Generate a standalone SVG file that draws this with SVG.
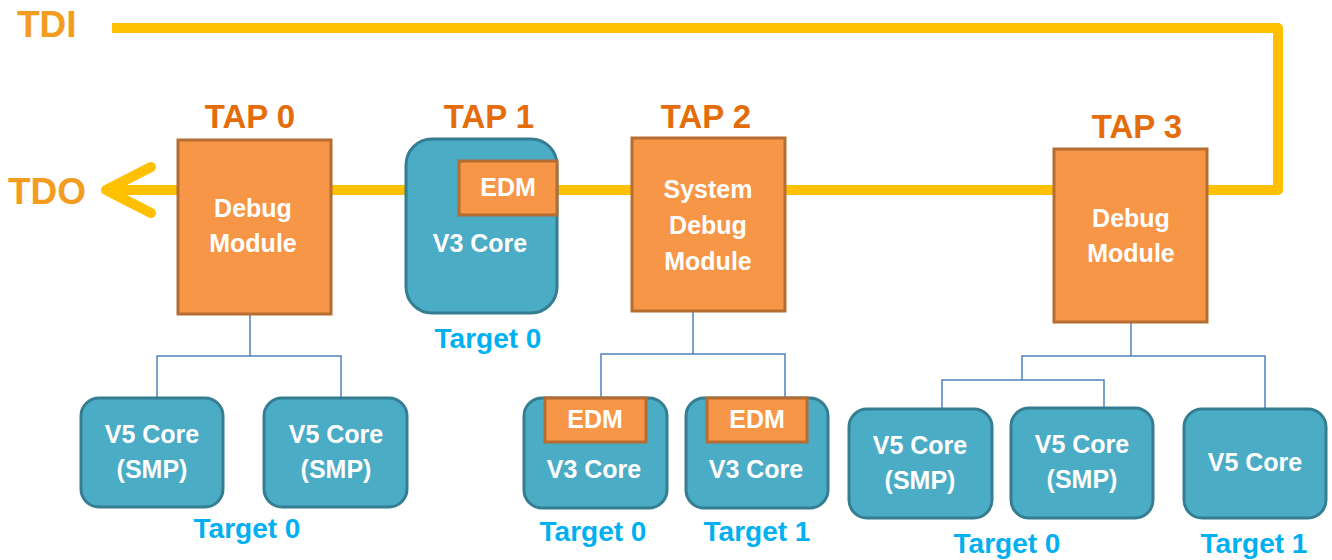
<svg xmlns="http://www.w3.org/2000/svg" width="1332" height="560" viewBox="0 0 1332 560">
<style>
text{font-family:"Liberation Sans",Arial,sans-serif;font-weight:bold;text-anchor:middle}
.sig{fill:#F39C1F;font-size:37px;text-anchor:start}
.tap{fill:#E46C0A;font-size:33px}
.w{fill:#FFFFFF;font-size:25px}
.tgt{fill:#00B0F0;font-size:28px}
.mod{fill:#F79646;stroke:#B66D31;stroke-width:3}
.core{fill:#4BACC6;stroke:#357D91;stroke-width:3}
.bus{fill:none;stroke:#FFC000;stroke-width:10}
.link{fill:none;stroke:#4F81BD;stroke-width:1.5}
</style>
<rect width="1332" height="560" fill="#FFFFFF"/>
<g id="connectors">
<polyline class="bus" points="112,28 1278,28 1278,190 106,190" stroke-linejoin="round"/>
<polyline class="bus" points="151,167 106,190 151,213" stroke-linecap="round" stroke-linejoin="round"/>
<polyline class="link" points="250,315 250,356"/>
<polyline class="link" points="157,397 157,356 341,356 341,397"/>
<polyline class="link" points="693,312 693,354"/>
<polyline class="link" points="601,397 601,354 785,354 785,397"/>
<polyline class="link" points="1131,323 1131,356"/>
<polyline class="link" points="1022,380 1022,356 1265,356 1265,408"/>
<polyline class="link" points="942,408 942,380 1104,380 1104,408"/>
</g>
<g id="labels">
<text class="sig" x="17" y="37">TDI</text>
<text class="sig" x="8" y="204">TDO</text>
</g>
<g id="tap0">
<text class="tap" x="250" y="128">TAP 0</text>
<rect class="mod" x="178" y="140" width="153" height="174"/>
<text class="w" x="253" y="217">Debug</text>
<text class="w" x="253" y="252">Module</text>
</g>
<g id="tap1">
<text class="tap" x="489" y="128">TAP 1</text>
<rect class="core" x="406" y="139" width="151" height="174" rx="26"/>
<rect class="mod" x="459" y="161" width="98" height="54"/>
<text class="w" x="508" y="196">EDM</text>
<text class="w" x="480" y="252">V3 Core</text>
<text class="tgt" x="488" y="348">Target 0</text>
</g>
<g id="tap2">
<text class="tap" x="706" y="128">TAP 2</text>
<rect class="mod" x="632" y="138" width="153" height="173"/>
<text class="w" x="708" y="198">System</text>
<text class="w" x="708" y="234">Debug</text>
<text class="w" x="708" y="270">Module</text>
</g>
<g id="tap3">
<text class="tap" x="1137" y="138">TAP 3</text>
<rect class="mod" x="1054" y="149" width="153" height="173"/>
<text class="w" x="1131" y="227">Debug</text>
<text class="w" x="1131" y="262">Module</text>
</g>
<g id="tap0-core0">
<rect class="core" x="81" y="398" width="142" height="109" rx="18"/>
<text class="w" x="152" y="443">V5 Core</text>
<text class="w" x="152" y="478">(SMP)</text>
</g>
<g id="tap0-core1">
<rect class="core" x="264" y="398" width="143" height="109" rx="18"/>
<text class="w" x="336" y="443">V5 Core</text>
<text class="w" x="336" y="478">(SMP)</text>
</g>
<g id="tap0-target">
<text class="tgt" x="247" y="538">Target 0</text>
</g>
<g id="tap2-core0">
<rect class="core" x="524" y="398" width="143" height="110" rx="18"/>
<rect class="mod" x="545" y="398" width="101" height="44"/>
<text class="w" x="595" y="428">EDM</text>
<text class="w" x="594" y="478">V3 Core</text>
<text class="tgt" x="593" y="541">Target 0</text>
</g>
<g id="tap2-core1">
<rect class="core" x="686" y="398" width="142" height="110" rx="18"/>
<rect class="mod" x="707" y="398" width="100" height="44"/>
<text class="w" x="757" y="428">EDM</text>
<text class="w" x="756" y="478">V3 Core</text>
<text class="tgt" x="757" y="541">Target 1</text>
</g>
<g id="tap3-core0">
<rect class="core" x="849" y="409" width="143" height="109" rx="18"/>
<text class="w" x="920" y="454">V5 Core</text>
<text class="w" x="920" y="489">(SMP)</text>
</g>
<g id="tap3-core1">
<rect class="core" x="1011" y="408" width="142" height="110" rx="18"/>
<text class="w" x="1082" y="453">V5 Core</text>
<text class="w" x="1082" y="488">(SMP)</text>
</g>
<g id="tap3-target0">
<text class="tgt" x="1007" y="553">Target 0</text>
</g>
<g id="tap3-core2">
<rect class="core" x="1184" y="409" width="142" height="109" rx="18"/>
<text class="w" x="1255" y="471">V5 Core</text>
<text class="tgt" x="1254" y="553">Target 1</text>
</g>
</svg>
